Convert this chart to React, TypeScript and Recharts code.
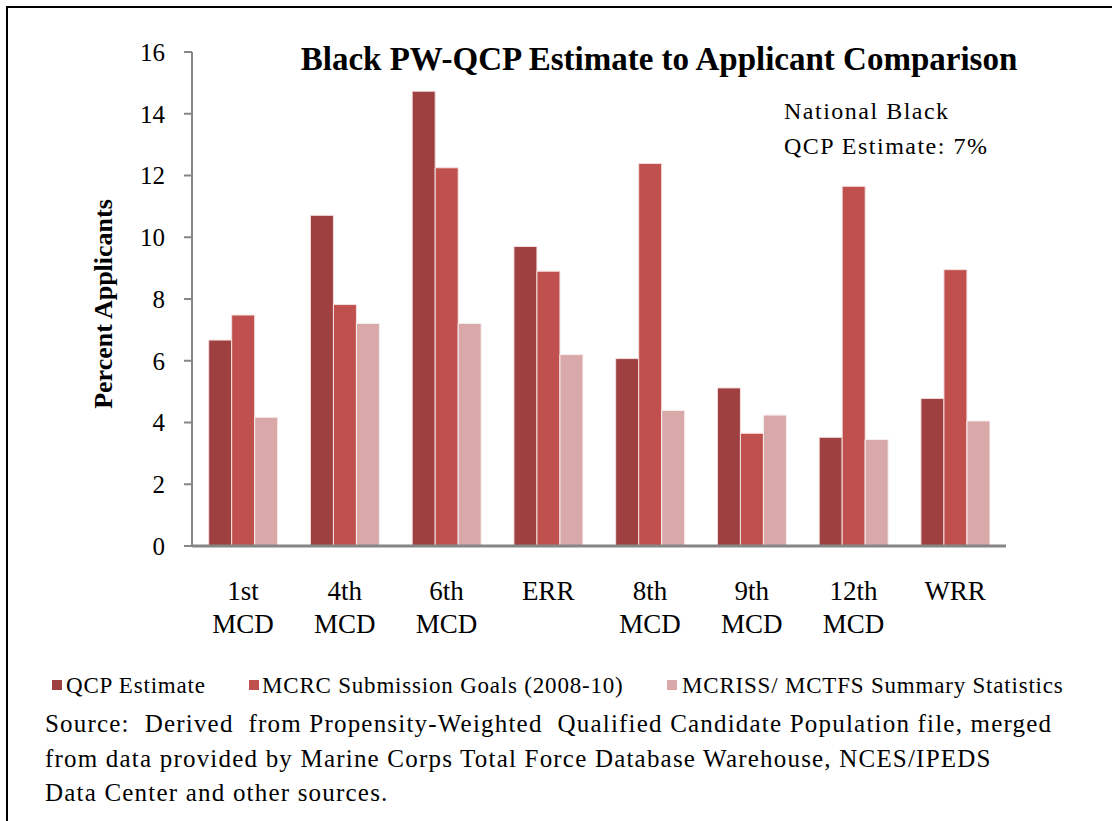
import { BarChart, Bar, XAxis, YAxis } from 'recharts'

const commands = ['1st\nMCD', '4th\nMCD', '6th\nMCD', 'ERR', '8th\nMCD', '9th\nMCD', '12th\nMCD', 'WRR']
const qcpEstimate = [6.67, 10.71, 14.73, 9.7, 6.07, 5.12, 3.52, 4.78]
const mcrcGoals = [7.48, 7.82, 12.25, 8.9, 12.39, 3.65, 11.65, 8.95]
const mcrissStats = [4.17, 7.21, 7.21, 6.2, 4.39, 4.24, 3.45, 4.05]
const yTicks = [0, 2, 4, 6, 8, 10, 12, 14, 16]

const seriesNames = ['QCP Estimate', 'MCRC Submission Goals (2008-10)', 'MCRISS/ MCTFS Summary Statistics']
const seriesColors = ['#9e4040', '#c0504d', '#d9a9aa']

const data = commands.map((name, i) => ({
  name,
  qcp: qcpEstimate[i],
  mcrc: mcrcGoals[i],
  mcriss: mcrissStats[i],
}))

const serif = '"Liberation Serif", "Times New Roman", serif'

// legend item positions
const legendSquareX = [52, 249, 667]
const legendTextX = [66, 262, 682]

function CategoryTick(props: any) {
  const { x, y, payload } = props
  const lines = String(payload.value).split('\n')
  return (
    <g transform={`translate(${x},${y})`}>
      {lines.map((line: string, i: number) => (
        <text
          key={i}
          x={0}
          y={46 + i * 33}
          textAnchor="middle"
          fontSize={27}
          fontFamily={serif}
          fill="#000"
        >
          {line}
        </text>
      ))}
    </g>
  )
}

export default function App() {
  return (
    <div
      style={{
        position: 'absolute',
        left: 0,
        top: 0,
        width: 1112,
        height: 821,
        background: '#fff',
        fontFamily: serif,
        overflow: 'hidden',
      }}
    >
      {/* frame: only top and left edges show in the picture */}
      <div
        style={{
          position: 'absolute',
          left: 6,
          top: 6,
          width: 1120,
          height: 830,
          borderTop: '2px solid #000',
          borderLeft: '2px solid #000',
        }}
      />
      <BarChart
        width={1112}
        height={821}
        data={data}
        margin={{ top: 52, right: 106, left: 112, bottom: 175 }}
        barCategoryGap="16.4%"
        barGap={0}
      >
        <XAxis
          dataKey="name"
          height={100}
          tick={<CategoryTick />}
          tickLine={false}
          axisLine={{ stroke: '#868686', strokeWidth: 3 }}
          interval={0}
        />
        <YAxis
          width={80}
          domain={[0, 16]}
          ticks={yTicks}
          interval={0}
          tickSize={8}
          tickMargin={19}
          tick={{ fontSize: 25, fontFamily: serif, fill: '#000' }}
          tickLine={{ stroke: '#868686', strokeWidth: 2 }}
          axisLine={{ stroke: '#868686', strokeWidth: 2 }}
        />
        <Bar dataKey="qcp" name={seriesNames[0]} fill={seriesColors[0]} stroke="#f4e0e0" strokeWidth={1} isAnimationActive={false} />
        <Bar dataKey="mcrc" name={seriesNames[1]} fill={seriesColors[1]} stroke="#f4e0e0" strokeWidth={1} isAnimationActive={false} />
        <Bar dataKey="mcriss" name={seriesNames[2]} fill={seriesColors[2]} stroke="#f8eeee" strokeWidth={1} isAnimationActive={false} />
        <text x={659} y={70} textAnchor="middle" fontSize={33} fontWeight="bold" fontFamily={serif} fill="#000">
          Black PW-QCP Estimate to Applicant Comparison
        </text>
        <text x={784} y={119} fontSize={24} letterSpacing={1.5} fontFamily={serif} fill="#000">National Black</text>
        <text x={784} y={154} fontSize={24} letterSpacing={1.5} fontFamily={serif} fill="#000">QCP Estimate:  7%</text>
        <text
          x={0}
          y={0}
          transform="translate(112,304) rotate(-90)"
          textAnchor="middle"
          fontSize={26}
          fontWeight="bold"
          fontFamily={serif}
          fill="#000"
        >
          Percent Applicants
        </text>
      </BarChart>

      {/* legend */}
      {seriesNames.map((name, i) => (
        <div key={name}>
          <span
            style={{
              position: 'absolute',
              left: legendSquareX[i],
              top: 680,
              width: 10,
              height: 10,
              background: seriesColors[i],
            }}
          />
          <span
            style={{
              position: 'absolute',
              left: legendTextX[i],
              top: 672,
              fontSize: 23,
              lineHeight: '28px',
              letterSpacing: 0.8,
              whiteSpace: 'nowrap',
            }}
          >
            {name}
          </span>
        </div>
      ))}

      {/* source note */}
      <div style={{ position: 'absolute', left: 45, top: 707, fontSize: 25, lineHeight: '34.5px', letterSpacing: 1.2, whiteSpace: 'pre' }}>
        <div>Source:  Derived  from Propensity-Weighted  Qualified Candidate Population file, merged</div>
        <div>from data provided by Marine Corps Total Force Database Warehouse, NCES/IPEDS</div>
        <div>Data Center and other sources.</div>
      </div>
    </div>
  )
}
